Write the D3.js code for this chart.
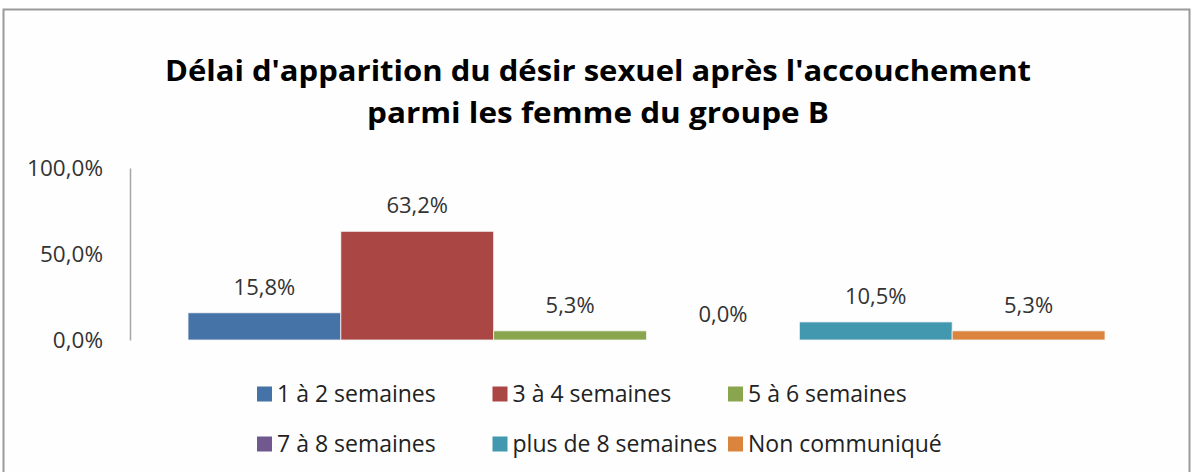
<!DOCTYPE html>
<html>
<head>
<meta charset="utf-8">
<script src="https://cdn.jsdelivr.net/npm/d3@7"></script>
<style>
  body { margin: 0; background: #ffffff; }
  svg text { font-family: "Open Sans", "DejaVu Sans", sans-serif; }
</style>
</head>
<body>
<div id="container"></div>
<script>
// data
var group = ["Groupe B"];
var series = ["1 à 2 semaines", "3 à 4 semaines", "5 à 6 semaines", "7 à 8 semaines", "plus de 8 semaines", "Non communiqué"];
var values = [0.158, 0.632, 0.053, 0.0, 0.105, 0.053];
var yTicks = [0, 0.5, 1];
var titleLines = ["Délai d'apparition du désir sexuel après l'accouchement", "parmi les femme du groupe B"];

var colors = ["#4572A7", "#AA4643", "#89A54E", "#71588F", "#4198AF", "#DB843D"];

var W = 1191, H = 472;
var plot = {left: 130, right: 1163, top: 168, bottom: 340};

var svg = d3.select("#container")
    .append("svg")
    .attr("width", W)
    .attr("height", H);

//chart frame
svg.append("rect")
    .attr("x", 3.5).attr("y", 9.5)
    .attr("width", 1186).attr("height", 480)
    .attr("fill", "#fefefe")
    .attr("stroke", "#9a9a9a")
    .attr("stroke-width", 2);

//title, fitted to the original width
var titleWidths = [866, 462];
titleLines.forEach(function(t, i) {
    var txt = svg.append("text")
        .attr("x", 598)
        .attr("y", 81 + i * 42)
        .attr("text-anchor", "middle")
        .style("font-size", "29px")
        .style("font-weight", "bold")
        .attr("fill", "#000")
        .text(t);
    txt.attr("textLength", titleWidths[i]).attr("lengthAdjust", "spacingAndGlyphs");
});

//scales
var x0 = d3.scaleBand().domain(group).range([plot.left, plot.right]).padding(0.0595);
var x1 = d3.scaleBand().domain(series).range([0, x0.bandwidth()]);
var y = d3.scaleLinear().domain([0, 1]).range([plot.bottom, plot.top]);
var fmt = function(v) { return d3.format(".1%")(v).replace(".", ","); };

//y axis
var yAxis = svg.append("g")
    .attr("transform", "translate(" + plot.left + ",0)")
    .call(d3.axisLeft(y).tickValues(yTicks).tickSize(0).tickPadding(27).tickFormat(fmt));
yAxis.select(".domain").attr("stroke", "#a6a6a6").attr("stroke-width", 1.5);
yAxis.selectAll("text")
    .style("font-size", "22.5px")
    .attr("fill", "#333");

//bars
var bars = svg.append("g")
    .attr("transform", "translate(" + x0(group[0]) + ",0)");

bars.selectAll("rect")
    .data(series)
    .enter().append("rect")
    .attr("x", function(d) { return x1(d); })
    .attr("y", function(d, i) { return y(values[i]); })
    .attr("width", x1.bandwidth())
    .attr("height", function(d, i) { return y(0) - y(values[i]); })
    .attr("fill", function(d, i) { return colors[i]; })
    .attr("stroke", "#f4f4f4")
    .attr("stroke-width", 0.8);

//data labels
bars.selectAll("text.lbl")
    .data(series)
    .enter().append("text")
    .attr("class", "lbl")
    .attr("x", function(d) { return x1(d) + x1.bandwidth() / 2; })
    .attr("y", function(d, i) { return y(values[i]) - 18; })
    .attr("text-anchor", "middle")
    .style("font-size", "22px")
    .attr("fill", "#333")
    .text(function(d, i) { return fmt(values[i]); });

//legend: 3 columns, 2 rows
var legend = svg.append("g");
var item = legend.selectAll("g")
    .data(series)
    .enter().append("g")
    .attr("transform", function(d, i) {
        return "translate(" + (257 + (i % 3) * 235.5) + "," + (394 + Math.floor(i / 3) * 50) + ")";
    });
item.append("rect")
    .attr("x", 0).attr("y", -7.5)
    .attr("width", 15).attr("height", 15)
    .attr("fill", function(d, i) { return colors[i]; });
item.append("text")
    .attr("x", 20)
    .attr("y", 7.5)
    .style("font-size", "23px")
    .attr("fill", "#222")
    .text(function(d) { return d; });
</script>
</body>
</html>
